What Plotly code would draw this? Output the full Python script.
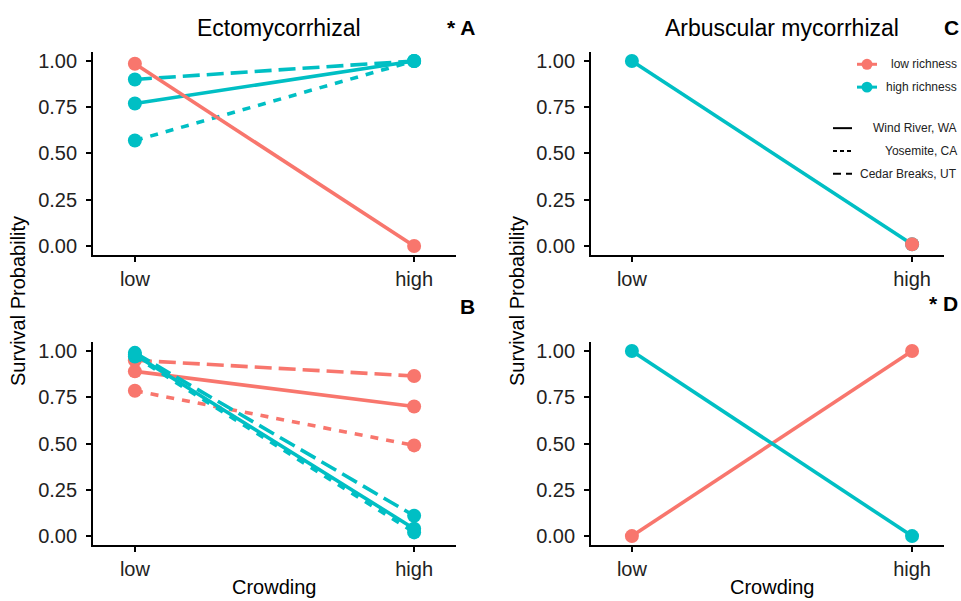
import plotly.graph_objects as go

# ---- data -------------------------------------------------------------
crowding = ["low", "high"]
richness = ["low richness", "high richness"]
sites = ["Wind River, WA", "Yosemite, CA", "Cedar Breaks, UT"]
y_ticks = [0.0, 0.25, 0.5, 0.75, 1.0]

# Ectomycorrhizal, conspecific soil (panel A)
ecm_a_low_wind = [0.985, 0.00]
ecm_a_high_wind = [0.77, 1.00]
ecm_a_high_yose = [0.57, 1.00]
ecm_a_high_cedar = [0.90, 1.00]

# Ectomycorrhizal, heterospecific soil (panel B)
ecm_b_low_wind = [0.89, 0.70]
ecm_b_low_yose = [0.785, 0.49]
ecm_b_low_cedar = [0.95, 0.865]
ecm_b_high_wind = [0.98, 0.04]
ecm_b_high_yose = [0.97, 0.02]
ecm_b_high_cedar = [0.99, 0.11]

# Arbuscular mycorrhizal (panels C and D)
am_c_low_wind = [None, 0.01]
am_c_high_wind = [1.00, 0.01]
am_d_low_wind = [0.00, 1.00]
am_d_high_wind = [1.00, 0.00]

# ---- styling ----------------------------------------------------------
W, H = 961, 601
SALMON = "#F8766D"
TEAL = "#00BFC4"
FONT = "Liberation Sans, Arial, sans-serif"
DASH = {"Wind River, WA": "solid", "Yosemite, CA": "8px,8px", "Cedar Breaks, UT": "17px,7px"}
COLOR = {"low richness": SALMON, "high richness": TEAL}


def px(x):
    return x / W


def py(y):
    return 1 - y / H


fig = go.Figure()


def add_series(values, rich, site, axis):
    fig.add_trace(go.Scatter(
        x=crowding, y=values, mode="lines+markers",
        line=dict(color=COLOR[rich], width=3.6, dash=DASH[site]),
        marker=dict(color=COLOR[rich], size=14),
        name=f"{rich} / {site}", showlegend=False,
        xaxis="x" + axis, yaxis="y" + axis, connectgaps=False,
    ))


# panel A
add_series(ecm_a_high_wind, "high richness", "Wind River, WA", "")
add_series(ecm_a_high_yose, "high richness", "Yosemite, CA", "")
add_series(ecm_a_high_cedar, "high richness", "Cedar Breaks, UT", "")
add_series(ecm_a_low_wind, "low richness", "Wind River, WA", "")
# panel B
add_series(ecm_b_low_wind, "low richness", "Wind River, WA", "2")
add_series(ecm_b_low_yose, "low richness", "Yosemite, CA", "2")
add_series(ecm_b_low_cedar, "low richness", "Cedar Breaks, UT", "2")
add_series(ecm_b_high_wind, "high richness", "Wind River, WA", "2")
add_series(ecm_b_high_yose, "high richness", "Yosemite, CA", "2")
add_series(ecm_b_high_cedar, "high richness", "Cedar Breaks, UT", "2")
# panel C
add_series(am_c_high_wind, "high richness", "Wind River, WA", "3")
add_series(am_c_low_wind, "low richness", "Wind River, WA", "3")
# panel D
add_series(am_d_low_wind, "low richness", "Wind River, WA", "4")
add_series(am_d_high_wind, "high richness", "Wind River, WA", "4")

# ---- axes ---------------------------------------------------------------
left_dom = [px(93), px(456)]
right_dom = [px(591), px(944)]
top_dom = [py(255), py(50)]
bot_dom = [py(547), py(342)]

common = dict(
    showline=True, linecolor="black", linewidth=1.8,
    ticks="outside", ticklen=5, tickwidth=1.5, tickcolor="black",
    showgrid=False, zeroline=False,
    tickfont=dict(family=FONT, size=20, color="#222222"),
)
xcommon = dict(common, type="category", categoryorder="array",
               categoryarray=crowding, fixedrange=True)
ycommon = dict(common, range=[-0.05, 1.05], tickvals=y_ticks,
               tickformat=".2f", fixedrange=True, ticklabelstandoff=5)

fig.update_layout(
    xaxis=dict(xcommon, domain=left_dom, range=[-0.15, 1.15], anchor="y"),
    yaxis=dict(ycommon, domain=top_dom, anchor="x"),
    xaxis2=dict(xcommon, domain=left_dom, range=[-0.15, 1.15], anchor="y2"),
    yaxis2=dict(ycommon, domain=bot_dom, anchor="x2"),
    xaxis3=dict(xcommon, domain=right_dom, range=[-0.146, 1.114], anchor="y3"),
    yaxis3=dict(ycommon, domain=top_dom, anchor="x3"),
    xaxis4=dict(xcommon, domain=right_dom, range=[-0.146, 1.114], anchor="y4"),
    yaxis4=dict(ycommon, domain=bot_dom, anchor="x4"),
)

# ---- text ---------------------------------------------------------------
ann = []


def text(x, y, s, size=20, bold=False, angle=0, xanchor="center", color="black"):
    ann.append(dict(
        x=px(x), y=py(y), xref="paper", yref="paper", text=s, showarrow=False,
        xanchor=xanchor, yanchor="middle", textangle=angle,
        font=dict(family=FONT, size=size, color=color,
                  weight="bold" if bold else "normal"),
    ))


text(279, 26, "Ectomycorrhizal", size=23)
text(782, 26, "Arbuscular mycorrhizal", size=23)
text(477, 26, "* A", size=21, bold=True, xanchor="right")
text(942, 26, "C", size=21, bold=True, xanchor="left")
text(477, 307, "B", size=21, bold=True, xanchor="right")
text(960, 304, "* D", size=21, bold=True, xanchor="right")
text(274, 589, "Crowding")
text(772, 589, "Crowding")
text(18, 301, "Survival Probability", angle=-90)
text(517, 301, "Survival Probability", angle=-90)

# ---- legend ---------------------------------------------------------------
shapes = []
leg_rows_color = [62.7, 85.7]
leg_rows_line = [127, 150, 173]
LEG_DASH = {"Wind River, WA": "solid", "Yosemite, CA": "4px,3px", "Cedar Breaks, UT": "8px,5px"}

for rich, yy in zip(richness, leg_rows_color):
    shapes.append(dict(type="line", xref="paper", yref="paper",
                       x0=px(857), x1=px(877), y0=py(yy), y1=py(yy),
                       line=dict(color=COLOR[rich], width=3)))
    shapes.append(dict(type="circle", xref="paper", yref="paper",
                       x0=px(861.5), x1=px(872.5), y0=py(yy + 5.5), y1=py(yy - 5.5),
                       fillcolor=COLOR[rich], line=dict(width=0)))
    text(959, yy, rich, size=12, xanchor="right", color="#222222")

for site, yy in zip(sites, leg_rows_line):
    shapes.append(dict(type="line", xref="paper", yref="paper",
                       x0=px(833), x1=px(852), y0=py(yy), y1=py(yy),
                       line=dict(color="black", width=2, dash=LEG_DASH[site])))
    text(959, yy, site, size=12, xanchor="right", color="#222222")

fig.update_layout(
    width=W, height=H,
    margin=dict(l=0, r=0, t=0, b=0),
    paper_bgcolor="white", plot_bgcolor="white",
    annotations=ann, shapes=shapes,
    showlegend=False,
)

fig.write_html("out.html", config={"displayModeBar": False})
